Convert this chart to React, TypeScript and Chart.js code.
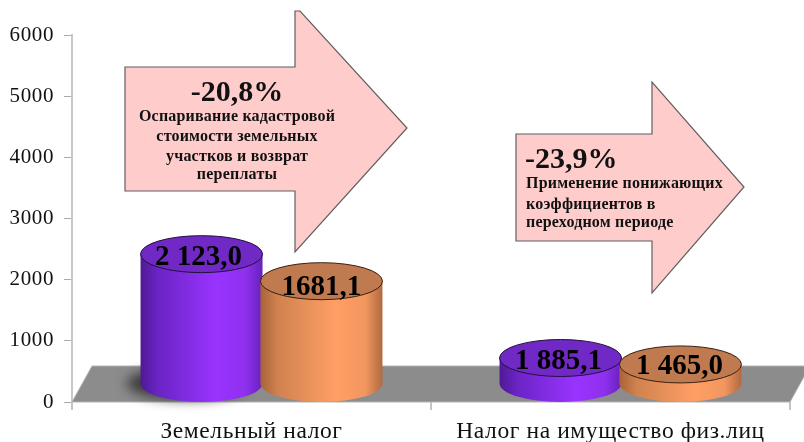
import React, { useEffect, useRef } from "react";
import { Chart, registerables } from "chart.js";

Chart.register(...registerables);

const categories = ["Земельный налог", "Налог на имущество физ.лиц"];
// Heights as drawn in the picture. The second group's cylinders are drawn far
// shorter than their printed labels, so heights and labels are kept apart.
const seriesA = [2123, 425];
const seriesB = [1681.1, 320];
const labelsA = ["2 123,0", "1 885,1"];
const labelsB = ["1681,1", "1 465,0"];
const yTicks = [0, 1000, 2000, 3000, 4000, 5000, 6000];

const callout1Head = "-20,8%";
const callout1Lines = ["Оспаривание кадастровой", "стоимости земельных", "участков и возврат", "переплаты"];
const callout2Head = "-23,9%";
const callout2Lines = ["Применение понижающих", "коэффициентов в", "переходном периоде"];

const SERIF = '"Liberation Serif", serif';
const DX = 10;
const DY = 18;
const labelNudgeA = [[-3, 3], [-2, 4]];
const labelNudgeB = [[0, 6], [-1, 2]];

function cylinder(ctx: CanvasRenderingContext2D, el: any, stops: string[], topFill: string, edge: string, rx: number, ry: number) {
  const cx = el.x + DX;
  const top = el.y - DY;
  const bottom = el.base - DY;
  const g = ctx.createLinearGradient(cx - rx, 0, cx + rx, 0);
  g.addColorStop(0, stops[0]);
  g.addColorStop(0.14, stops[1]);
  g.addColorStop(0.62, stops[2]);
  g.addColorStop(0.86, stops[3]);
  g.addColorStop(1, stops[4]);
  ctx.beginPath();
  ctx.moveTo(cx - rx, top);
  ctx.lineTo(cx - rx, bottom);
  ctx.ellipse(cx, bottom, rx, ry, 0, Math.PI, 0, true);
  ctx.lineTo(cx + rx, top);
  ctx.closePath();
  ctx.fillStyle = g;
  ctx.fill();
  ctx.beginPath();
  ctx.ellipse(cx, top, rx, ry, 0, 0, Math.PI * 2);
  ctx.fillStyle = topFill;
  ctx.fill();
  ctx.strokeStyle = edge;
  ctx.lineWidth = 1;
  ctx.stroke();
}

function arrow(ctx: CanvasRenderingContext2D, pts: number[][]) {
  ctx.beginPath();
  pts.forEach((p, i) => (i ? ctx.lineTo(p[0], p[1]) : ctx.moveTo(p[0], p[1])));
  ctx.closePath();
  ctx.fillStyle = "#ffcccc";
  ctx.fill();
  ctx.strokeStyle = "#5f5f5f";
  ctx.lineWidth = 1.2;
  ctx.stroke();
}

const scene = {
  id: "scene",
  beforeDraw(chart: any) {
    // the reference's type is slightly stretched; applies to axis labels too
    chart.ctx.letterSpacing = "0.6px";
  },
  beforeDatasetsDraw(chart: any) {
    const { ctx, chartArea: a } = chart;
    ctx.save();
    ctx.beginPath();
    ctx.moveTo(a.left, a.bottom);
    ctx.lineTo(a.left + DX * 2, a.bottom - DY * 2);
    ctx.lineTo(a.right + DX * 2, a.bottom - DY * 2);
    ctx.lineTo(a.right, a.bottom);
    ctx.closePath();
    ctx.fillStyle = "#8c8c8c";
    ctx.fill();
    ctx.strokeStyle = "#b4b4b4";
    ctx.lineWidth = 1;
    ctx.stroke();
    ctx.restore();
  },
  afterDatasetsDraw(chart: any) {
    const { ctx } = chart;
    const A = chart.getDatasetMeta(0).data;
    const B = chart.getDatasetMeta(1).data;
    const rx = 61;
    const ry = 18.5;
    ctx.save();
    // soft floor shadow beside the tall cylinder
    ctx.filter = "blur(6px)";
    ctx.fillStyle = "rgba(40,40,40,0.8)";
    ctx.beginPath();
    ctx.ellipse(A[0].x + DX - 14, A[0].base - DY, rx, ry - 2, 0, 0, Math.PI * 2);
    ctx.fill();
    ctx.filter = "none";
    const purple = ["#4e1a94", "#6a24c4", "#9933ff", "#8f30ee", "#6622bb"];
    const orange = ["#a8633a", "#d0824f", "#ff9f66", "#f2965f", "#b06a40"];
    A.forEach((el: any) => cylinder(ctx, el, purple, "#7029c4", "#241040", rx, ry));
    B.forEach((el: any) => cylinder(ctx, el, orange, "#c07a50", "#3a2010", rx, ry));

    ctx.fillStyle = "#000";
    ctx.textAlign = "center";
    ctx.textBaseline = "middle";
    ctx.font = `bold 29px ${SERIF}`;
    ctx.letterSpacing = "0px";
    A.forEach((el: any, i: number) => ctx.fillText(labelsA[i], el.x + DX + labelNudgeA[i][0], el.y - DY + labelNudgeA[i][1]));
    B.forEach((el: any, i: number) => ctx.fillText(labelsB[i], el.x + DX + labelNudgeB[i][0], el.y - DY + labelNudgeB[i][1]));

    arrow(ctx, [[125, 67], [295, 67], [295, 11], [300, 11], [407, 128], [295, 252], [295, 191], [125, 191]]);
    arrow(ctx, [[516, 134], [652, 134], [652, 82], [744, 187], [652, 293], [652, 241], [516, 241]]);

    ctx.fillStyle = "#111";
    ctx.letterSpacing = "0px";
    ctx.font = `bold 30px ${SERIF}`;
    ctx.fillText(callout1Head, 237, 93);
    ctx.letterSpacing = "0.2px";
    ctx.font = `bold 16px ${SERIF}`;
    [117, 137, 157, 175].forEach((y, i) => ctx.fillText(callout1Lines[i], 237, y));
    ctx.textAlign = "left";
    ctx.letterSpacing = "0px";
    ctx.font = `bold 30px ${SERIF}`;
    ctx.fillText(callout2Head, 525, 160);
    ctx.letterSpacing = "0.2px";
    ctx.font = `bold 16px ${SERIF}`;
    [184, 205, 223].forEach((y, i) => ctx.fillText(callout2Lines[i], 526, y));
    ctx.restore();
  },
};

export default function App() {
  const ref = useRef<HTMLCanvasElement>(null);
  useEffect(() => {
    document.body.style.margin = "0";
    const chart = new Chart(ref.current!, {
      type: "bar",
      data: {
        labels: categories,
        datasets: [
          { label: "A", data: seriesA, backgroundColor: "rgba(0,0,0,0)", borderWidth: 0 },
          { label: "B", data: seriesB, backgroundColor: "rgba(0,0,0,0)", borderWidth: 0 },
        ],
      },
      options: {
        animation: false,
        responsive: false,
        layout: { padding: { top: 35, right: 14, left: 0, bottom: 0 } },
        datasets: { bar: { barPercentage: 1, categoryPercentage: 0.668 } },
        plugins: { legend: { display: false }, title: { display: false }, tooltip: { enabled: false } },
        scales: {
          x: {
            afterFit: (s: any) => { s.height = 40; },
            border: { display: false },
            grid: { drawOnChartArea: false, color: "#c4c4c4", lineWidth: 2, tickLength: 8 },
            ticks: { color: "#111", font: { family: SERIF, size: 23.5 }, padding: 8, maxRotation: 0, autoSkip: false },
          },
          y: {
            min: 0,
            max: 6000,
            afterFit: (s: any) => { s.width = 72; },
            afterBuildTicks: (s: any) => { s.ticks = yTicks.map((value) => ({ value })); },
            border: { display: true, color: "#c8c8c8", width: 2 },
            grid: { drawOnChartArea: false, color: "#aaaaaa", lineWidth: 1, tickLength: 8 },
            ticks: { color: "#111", font: { family: SERIF, size: 21 }, padding: 10, callback: (v: any) => String(v) },
          },
        },
      } as any,
      plugins: [scene],
    });
    return () => chart.destroy();
  }, []);
  return <canvas ref={ref} width={804} height={442} style={{ display: "block" }} />;
}
